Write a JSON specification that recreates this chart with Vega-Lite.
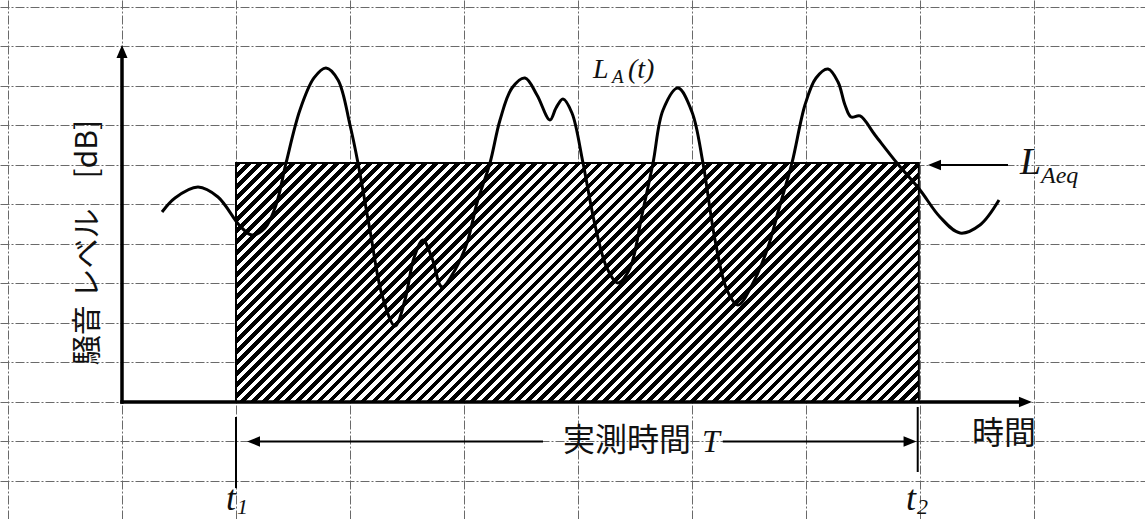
{
"$schema": "https://vega.github.io/schema/vega-lite/v6.json",
"width": 1145, "height": 519,
"autosize": {"type": "none"},
"padding": 0,
"background": "white",
"config": {"view": {"stroke": null}, "axis": {"grid": true, "labels": false, "ticks": false, "domain": false, "gridColor": "#6a6a6a", "gridWidth": 1, "gridDash": [9, 2, 2, 2]}},
"encoding": {
  "x": {"field": "x", "type": "quantitative", "title": null, "scale": {"domain": [-1.0702, 8.9737], "nice": false, "zero": false}, "axis": {"values": [-1, 0, 1, 2, 3, 4, 5, 6, 7, 8, 9], "title": null}},
  "y": {"field": "y", "type": "quantitative", "title": null, "scale": {"domain": [-2.962, 10.177], "nice": false, "zero": false}, "axis": {"values": [-3, -2, -1, 0, 1, 2, 3, 4, 5, 6, 7, 8, 9, 10], "title": null}}
},
"layer": [
{
  "data": {"values": [{"x": 1, "x2": 6.99, "y": 0, "y2": 6.05}]},
  "mark": {"type": "rect", "stroke": "#000", "strokeWidth": 2, "fill": {"gradient": "linear", "x1": 0, "y1": 0, "x2": 1.2027, "y2": 0.4209, "stops": [
{"offset":0,"color":"#000"},{"offset":0.0062,"color":"#000"},{"offset":0.0062,"color":"#fff"},{"offset":0.0119,"color":"#fff"},
{"offset":0.0119,"color":"#000"},{"offset":0.0181,"color":"#000"},{"offset":0.0181,"color":"#fff"},{"offset":0.0238,"color":"#fff"},
{"offset":0.0238,"color":"#000"},{"offset":0.0300,"color":"#000"},{"offset":0.0300,"color":"#fff"},{"offset":0.0357,"color":"#fff"},
{"offset":0.0357,"color":"#000"},{"offset":0.0419,"color":"#000"},{"offset":0.0419,"color":"#fff"},{"offset":0.0476,"color":"#fff"},
{"offset":0.0476,"color":"#000"},{"offset":0.0538,"color":"#000"},{"offset":0.0538,"color":"#fff"},{"offset":0.0595,"color":"#fff"},
{"offset":0.0595,"color":"#000"},{"offset":0.0657,"color":"#000"},{"offset":0.0657,"color":"#fff"},{"offset":0.0714,"color":"#fff"},
{"offset":0.0714,"color":"#000"},{"offset":0.0776,"color":"#000"},{"offset":0.0776,"color":"#fff"},{"offset":0.0833,"color":"#fff"},
{"offset":0.0833,"color":"#000"},{"offset":0.0895,"color":"#000"},{"offset":0.0895,"color":"#fff"},{"offset":0.0952,"color":"#fff"},
{"offset":0.0952,"color":"#000"},{"offset":0.1014,"color":"#000"},{"offset":0.1014,"color":"#fff"},{"offset":0.1071,"color":"#fff"},
{"offset":0.1071,"color":"#000"},{"offset":0.1133,"color":"#000"},{"offset":0.1133,"color":"#fff"},{"offset":0.1190,"color":"#fff"},
{"offset":0.1190,"color":"#000"},{"offset":0.1252,"color":"#000"},{"offset":0.1252,"color":"#fff"},{"offset":0.1310,"color":"#fff"},
{"offset":0.1310,"color":"#000"},{"offset":0.1372,"color":"#000"},{"offset":0.1372,"color":"#fff"},{"offset":0.1429,"color":"#fff"},
{"offset":0.1429,"color":"#000"},{"offset":0.1491,"color":"#000"},{"offset":0.1491,"color":"#fff"},{"offset":0.1548,"color":"#fff"},
{"offset":0.1548,"color":"#000"},{"offset":0.1610,"color":"#000"},{"offset":0.1610,"color":"#fff"},{"offset":0.1667,"color":"#fff"},
{"offset":0.1667,"color":"#000"},{"offset":0.1729,"color":"#000"},{"offset":0.1729,"color":"#fff"},{"offset":0.1786,"color":"#fff"},
{"offset":0.1786,"color":"#000"},{"offset":0.1848,"color":"#000"},{"offset":0.1848,"color":"#fff"},{"offset":0.1905,"color":"#fff"},
{"offset":0.1905,"color":"#000"},{"offset":0.1967,"color":"#000"},{"offset":0.1967,"color":"#fff"},{"offset":0.2024,"color":"#fff"},
{"offset":0.2024,"color":"#000"},{"offset":0.2086,"color":"#000"},{"offset":0.2086,"color":"#fff"},{"offset":0.2143,"color":"#fff"},
{"offset":0.2143,"color":"#000"},{"offset":0.2205,"color":"#000"},{"offset":0.2205,"color":"#fff"},{"offset":0.2262,"color":"#fff"},
{"offset":0.2262,"color":"#000"},{"offset":0.2324,"color":"#000"},{"offset":0.2324,"color":"#fff"},{"offset":0.2381,"color":"#fff"},
{"offset":0.2381,"color":"#000"},{"offset":0.2443,"color":"#000"},{"offset":0.2443,"color":"#fff"},{"offset":0.2500,"color":"#fff"},
{"offset":0.2500,"color":"#000"},{"offset":0.2562,"color":"#000"},{"offset":0.2562,"color":"#fff"},{"offset":0.2619,"color":"#fff"},
{"offset":0.2619,"color":"#000"},{"offset":0.2681,"color":"#000"},{"offset":0.2681,"color":"#fff"},{"offset":0.2738,"color":"#fff"},
{"offset":0.2738,"color":"#000"},{"offset":0.2800,"color":"#000"},{"offset":0.2800,"color":"#fff"},{"offset":0.2857,"color":"#fff"},
{"offset":0.2857,"color":"#000"},{"offset":0.2919,"color":"#000"},{"offset":0.2919,"color":"#fff"},{"offset":0.2976,"color":"#fff"},
{"offset":0.2976,"color":"#000"},{"offset":0.3038,"color":"#000"},{"offset":0.3038,"color":"#fff"},{"offset":0.3095,"color":"#fff"},
{"offset":0.3095,"color":"#000"},{"offset":0.3157,"color":"#000"},{"offset":0.3157,"color":"#fff"},{"offset":0.3214,"color":"#fff"},
{"offset":0.3214,"color":"#000"},{"offset":0.3276,"color":"#000"},{"offset":0.3276,"color":"#fff"},{"offset":0.3333,"color":"#fff"},
{"offset":0.3333,"color":"#000"},{"offset":0.3395,"color":"#000"},{"offset":0.3395,"color":"#fff"},{"offset":0.3452,"color":"#fff"},
{"offset":0.3452,"color":"#000"},{"offset":0.3514,"color":"#000"},{"offset":0.3514,"color":"#fff"},{"offset":0.3571,"color":"#fff"},
{"offset":0.3571,"color":"#000"},{"offset":0.3633,"color":"#000"},{"offset":0.3633,"color":"#fff"},{"offset":0.3690,"color":"#fff"},
{"offset":0.3690,"color":"#000"},{"offset":0.3752,"color":"#000"},{"offset":0.3752,"color":"#fff"},{"offset":0.3810,"color":"#fff"},
{"offset":0.3810,"color":"#000"},{"offset":0.3872,"color":"#000"},{"offset":0.3872,"color":"#fff"},{"offset":0.3929,"color":"#fff"},
{"offset":0.3929,"color":"#000"},{"offset":0.3991,"color":"#000"},{"offset":0.3991,"color":"#fff"},{"offset":0.4048,"color":"#fff"},
{"offset":0.4048,"color":"#000"},{"offset":0.4110,"color":"#000"},{"offset":0.4110,"color":"#fff"},{"offset":0.4167,"color":"#fff"},
{"offset":0.4167,"color":"#000"},{"offset":0.4229,"color":"#000"},{"offset":0.4229,"color":"#fff"},{"offset":0.4286,"color":"#fff"},
{"offset":0.4286,"color":"#000"},{"offset":0.4348,"color":"#000"},{"offset":0.4348,"color":"#fff"},{"offset":0.4405,"color":"#fff"},
{"offset":0.4405,"color":"#000"},{"offset":0.4467,"color":"#000"},{"offset":0.4467,"color":"#fff"},{"offset":0.4524,"color":"#fff"},
{"offset":0.4524,"color":"#000"},{"offset":0.4586,"color":"#000"},{"offset":0.4586,"color":"#fff"},{"offset":0.4643,"color":"#fff"},
{"offset":0.4643,"color":"#000"},{"offset":0.4705,"color":"#000"},{"offset":0.4705,"color":"#fff"},{"offset":0.4762,"color":"#fff"},
{"offset":0.4762,"color":"#000"},{"offset":0.4824,"color":"#000"},{"offset":0.4824,"color":"#fff"},{"offset":0.4881,"color":"#fff"},
{"offset":0.4881,"color":"#000"},{"offset":0.4943,"color":"#000"},{"offset":0.4943,"color":"#fff"},{"offset":0.5000,"color":"#fff"},
{"offset":0.5000,"color":"#000"},{"offset":0.5062,"color":"#000"},{"offset":0.5062,"color":"#fff"},{"offset":0.5119,"color":"#fff"},
{"offset":0.5119,"color":"#000"},{"offset":0.5181,"color":"#000"},{"offset":0.5181,"color":"#fff"},{"offset":0.5238,"color":"#fff"},
{"offset":0.5238,"color":"#000"},{"offset":0.5300,"color":"#000"},{"offset":0.5300,"color":"#fff"},{"offset":0.5357,"color":"#fff"},
{"offset":0.5357,"color":"#000"},{"offset":0.5419,"color":"#000"},{"offset":0.5419,"color":"#fff"},{"offset":0.5476,"color":"#fff"},
{"offset":0.5476,"color":"#000"},{"offset":0.5538,"color":"#000"},{"offset":0.5538,"color":"#fff"},{"offset":0.5595,"color":"#fff"},
{"offset":0.5595,"color":"#000"},{"offset":0.5657,"color":"#000"},{"offset":0.5657,"color":"#fff"},{"offset":0.5714,"color":"#fff"},
{"offset":0.5714,"color":"#000"},{"offset":0.5776,"color":"#000"},{"offset":0.5776,"color":"#fff"},{"offset":0.5833,"color":"#fff"},
{"offset":0.5833,"color":"#000"},{"offset":0.5895,"color":"#000"},{"offset":0.5895,"color":"#fff"},{"offset":0.5952,"color":"#fff"},
{"offset":0.5952,"color":"#000"},{"offset":0.6014,"color":"#000"},{"offset":0.6014,"color":"#fff"},{"offset":0.6071,"color":"#fff"},
{"offset":0.6071,"color":"#000"},{"offset":0.6133,"color":"#000"},{"offset":0.6133,"color":"#fff"},{"offset":0.6190,"color":"#fff"},
{"offset":0.6190,"color":"#000"},{"offset":0.6252,"color":"#000"},{"offset":0.6252,"color":"#fff"},{"offset":0.6310,"color":"#fff"},
{"offset":0.6310,"color":"#000"},{"offset":0.6372,"color":"#000"},{"offset":0.6372,"color":"#fff"},{"offset":0.6429,"color":"#fff"},
{"offset":0.6429,"color":"#000"},{"offset":0.6491,"color":"#000"},{"offset":0.6491,"color":"#fff"},{"offset":0.6548,"color":"#fff"},
{"offset":0.6548,"color":"#000"},{"offset":0.6610,"color":"#000"},{"offset":0.6610,"color":"#fff"},{"offset":0.6667,"color":"#fff"},
{"offset":0.6667,"color":"#000"},{"offset":0.6729,"color":"#000"},{"offset":0.6729,"color":"#fff"},{"offset":0.6786,"color":"#fff"},
{"offset":0.6786,"color":"#000"},{"offset":0.6848,"color":"#000"},{"offset":0.6848,"color":"#fff"},{"offset":0.6905,"color":"#fff"},
{"offset":0.6905,"color":"#000"},{"offset":0.6967,"color":"#000"},{"offset":0.6967,"color":"#fff"},{"offset":0.7024,"color":"#fff"},
{"offset":0.7024,"color":"#000"},{"offset":0.7086,"color":"#000"},{"offset":0.7086,"color":"#fff"},{"offset":0.7143,"color":"#fff"},
{"offset":0.7143,"color":"#000"},{"offset":0.7205,"color":"#000"},{"offset":0.7205,"color":"#fff"},{"offset":0.7262,"color":"#fff"},
{"offset":0.7262,"color":"#000"},{"offset":0.7324,"color":"#000"},{"offset":0.7324,"color":"#fff"},{"offset":0.7381,"color":"#fff"},
{"offset":0.7381,"color":"#000"},{"offset":0.7443,"color":"#000"},{"offset":0.7443,"color":"#fff"},{"offset":0.7500,"color":"#fff"},
{"offset":0.7500,"color":"#000"},{"offset":0.7562,"color":"#000"},{"offset":0.7562,"color":"#fff"},{"offset":0.7619,"color":"#fff"},
{"offset":0.7619,"color":"#000"},{"offset":0.7681,"color":"#000"},{"offset":0.7681,"color":"#fff"},{"offset":0.7738,"color":"#fff"},
{"offset":0.7738,"color":"#000"},{"offset":0.7800,"color":"#000"},{"offset":0.7800,"color":"#fff"},{"offset":0.7857,"color":"#fff"},
{"offset":0.7857,"color":"#000"},{"offset":0.7919,"color":"#000"},{"offset":0.7919,"color":"#fff"},{"offset":0.7976,"color":"#fff"},
{"offset":0.7976,"color":"#000"},{"offset":0.8038,"color":"#000"},{"offset":0.8038,"color":"#fff"},{"offset":0.8095,"color":"#fff"},
{"offset":0.8095,"color":"#000"},{"offset":0.8157,"color":"#000"},{"offset":0.8157,"color":"#fff"},{"offset":0.8214,"color":"#fff"},
{"offset":0.8214,"color":"#000"},{"offset":0.8276,"color":"#000"},{"offset":0.8276,"color":"#fff"},{"offset":0.8333,"color":"#fff"},
{"offset":0.8333,"color":"#000"},{"offset":0.8395,"color":"#000"},{"offset":0.8395,"color":"#fff"},{"offset":0.8452,"color":"#fff"},
{"offset":0.8452,"color":"#000"},{"offset":0.8514,"color":"#000"},{"offset":0.8514,"color":"#fff"},{"offset":0.8571,"color":"#fff"},
{"offset":0.8571,"color":"#000"},{"offset":0.8633,"color":"#000"},{"offset":0.8633,"color":"#fff"},{"offset":0.8690,"color":"#fff"},
{"offset":0.8690,"color":"#000"},{"offset":0.8752,"color":"#000"},{"offset":0.8752,"color":"#fff"},{"offset":0.8810,"color":"#fff"},
{"offset":0.8810,"color":"#000"},{"offset":0.8872,"color":"#000"},{"offset":0.8872,"color":"#fff"},{"offset":0.8929,"color":"#fff"},
{"offset":0.8929,"color":"#000"},{"offset":0.8991,"color":"#000"},{"offset":0.8991,"color":"#fff"},{"offset":0.9048,"color":"#fff"},
{"offset":0.9048,"color":"#000"},{"offset":0.9110,"color":"#000"},{"offset":0.9110,"color":"#fff"},{"offset":0.9167,"color":"#fff"},
{"offset":0.9167,"color":"#000"},{"offset":0.9229,"color":"#000"},{"offset":0.9229,"color":"#fff"},{"offset":0.9286,"color":"#fff"},
{"offset":0.9286,"color":"#000"},{"offset":0.9348,"color":"#000"},{"offset":0.9348,"color":"#fff"},{"offset":0.9405,"color":"#fff"},
{"offset":0.9405,"color":"#000"},{"offset":0.9467,"color":"#000"},{"offset":0.9467,"color":"#fff"},{"offset":0.9524,"color":"#fff"},
{"offset":0.9524,"color":"#000"},{"offset":0.9586,"color":"#000"},{"offset":0.9586,"color":"#fff"},{"offset":0.9643,"color":"#fff"},
{"offset":0.9643,"color":"#000"},{"offset":0.9705,"color":"#000"},{"offset":0.9705,"color":"#fff"},{"offset":0.9762,"color":"#fff"},
{"offset":0.9762,"color":"#000"},{"offset":0.9824,"color":"#000"},{"offset":0.9824,"color":"#fff"},{"offset":0.9881,"color":"#fff"},
{"offset":0.9881,"color":"#000"},{"offset":0.9943,"color":"#000"},{"offset":0.9943,"color":"#fff"},{"offset":1,"color":"#fff"}
]}},
  "encoding": {"x2": {"field": "x2"}, "y2": {"field": "y2"}}
},
{
  "data": {"values": [
    {"x":0.351,"y":4.810},{"x":0.465,"y":5.165},{"x":0.667,"y":5.443},{"x":0.842,"y":5.190},{"x":1.035,"y":4.456},{"x":1.140,"y":4.228},{"x":1.254,"y":4.405},{"x":1.351,"y":4.987},{"x":1.439,"y":6.051},{"x":1.561,"y":7.392},{"x":1.684,"y":8.203},{"x":1.789,"y":8.456},{"x":1.895,"y":8.152},{"x":2.0,"y":7.013},{"x":2.070,"y":6.051},{"x":2.175,"y":4.354},{"x":2.281,"y":2.709},{"x":2.395,"y":1.924},{"x":2.482,"y":2.582},{"x":2.561,"y":3.646},{"x":2.640,"y":4.101},{"x":2.719,"y":3.646},{"x":2.807,"y":2.911},{"x":2.921,"y":3.342},{"x":3.026,"y":4.025},{"x":3.114,"y":5.038},{"x":3.228,"y":6.051},{"x":3.316,"y":7.139},{"x":3.421,"y":7.949},{"x":3.535,"y":8.203},{"x":3.640,"y":7.772},{"x":3.754,"y":7.139},{"x":3.807,"y":7.443},{"x":3.868,"y":7.671},{"x":3.947,"y":7.316},{"x":4.044,"y":6.051},{"x":4.149,"y":4.481},{"x":4.254,"y":3.392},{"x":4.351,"y":3.013},{"x":4.456,"y":3.392},{"x":4.561,"y":4.734},{"x":4.658,"y":6.051},{"x":4.746,"y":7.392},{"x":4.877,"y":7.949},{"x":5.0,"y":7.342},{"x":5.096,"y":6.051},{"x":5.202,"y":4.101},{"x":5.307,"y":2.835},{"x":5.404,"y":2.456},{"x":5.526,"y":2.962},{"x":5.658,"y":3.848},{"x":5.772,"y":4.987},{"x":5.877,"y":6.051},{"x":5.991,"y":7.519},{"x":6.088,"y":8.203},{"x":6.193,"y":8.430},{"x":6.281,"y":8.101},{"x":6.342,"y":7.519},{"x":6.395,"y":7.215},{"x":6.474,"y":7.241},{"x":6.605,"y":6.759},{"x":6.798,"y":6.051},{"x":7.0,"y":5.367},{"x":7.175,"y":4.684},{"x":7.351,"y":4.278},{"x":7.526,"y":4.481},{"x":7.693,"y":5.114}
  ]},
  "mark": {"type": "line", "interpolate": "catmull-rom", "stroke": "#000", "strokeWidth": 3}
},
{
  "data": {"values": [{"x": 0, "y": 0, "x2": 0, "y2": 8.8}, {"x": 0, "y": 0, "x2": 7.9, "y2": 0}]},
  "mark": {"type": "rule", "color": "#000", "strokeWidth": 3.5, "strokeCap": "square"},
  "encoding": {"x2": {"field": "x2"}, "y2": {"field": "y2"}}
},
{
  "data": {"values": [
    {"x": 7.13, "y": 6.0, "x2": 7.772, "y2": 6.0},
    {"x": 1.15, "y": -1, "x2": 3.693, "y2": -1},
    {"x": 5.27, "y": -1, "x2": 6.92, "y2": -1},
    {"x": 1.0, "y": -0.38, "x2": 1.0, "y2": -2.18},
    {"x": 6.98, "y": -0.127, "x2": 6.98, "y2": -1.772}
  ]},
  "mark": {"type": "rule", "color": "#000", "strokeWidth": 2},
  "encoding": {"x2": {"field": "x2"}, "y2": {"field": "y2"}}
},
{
  "data": {"values": [{"x": 0, "y": 9.04}]},
  "mark": {"type": "point", "shape": "M0,0L-0.85,2L0.85,2Z", "size": 169, "filled": true, "color": "#000", "opacity": 1, "strokeWidth": 0}
},
{
  "data": {"values": [{"x": 7.982, "y": 0}, {"x": 6.97, "y": -1}]},
  "mark": {"type": "point", "shape": "M0,0L-2,-0.8L-2,0.8Z", "size": 169, "filled": true, "color": "#000", "opacity": 1, "strokeWidth": 0}
},
{
  "data": {"values": [{"x": 7.07, "y": 6.0}, {"x": 1.0965, "y": -1}]},
  "mark": {"type": "point", "shape": "M0,0L2,-0.8L2,0.8Z", "size": 169, "filled": true, "color": "#000", "opacity": 1, "strokeWidth": 0}
},
{
  "data": {"values": [{"x": 4.4298, "y": -1.0, "t": "実測時間"}, {"x": 7.7368, "y": -0.8101, "t": "時間"}]},
  "mark": {"type": "text", "font": "Noto Sans CJK JP", "fontSize": 32, "align": "center", "baseline": "middle", "color": "#111"},
  "encoding": {"text": {"field": "t"}}
},
{
  "data": {"values": [{"x": -0.2982, "y": 4.038, "t": "騒音 レベル　[dB]"}]},
  "mark": {"type": "text", "font": "Noto Sans CJK JP", "fontSize": 30, "angle": 270, "align": "center", "baseline": "middle", "color": "#111"},
  "encoding": {"text": {"field": "t"}}
},
{
  "data": {"values": [{"x": 4.1316, "y": 8.2025, "t": "L"}, {"x": 4.4386, "y": 8.2025, "t": "(t)"}]},
  "mark": {"type": "text", "font": "Liberation Serif", "fontStyle": "italic", "fontSize": 28, "align": "left", "baseline": "alphabetic", "color": "#111"},
  "encoding": {"text": {"field": "t"}}
},
{
  "data": {"values": [{"x": 4.2982, "y": 8.0759, "t": "A"}]},
  "mark": {"type": "text", "font": "Liberation Serif", "fontStyle": "italic", "fontSize": 19, "align": "left", "baseline": "alphabetic", "color": "#111"},
  "encoding": {"text": {"field": "t"}}
},
{
  "data": {"values": [{"x": 7.8772, "y": 5.7722, "t": "L"}]},
  "mark": {"type": "text", "font": "Liberation Serif", "fontStyle": "italic", "fontSize": 38, "align": "left", "baseline": "alphabetic", "color": "#111"},
  "encoding": {"text": {"field": "t"}}
},
{
  "data": {"values": [{"x": 8.0614, "y": 5.5443, "t": "Aeq"}]},
  "mark": {"type": "text", "font": "Liberation Serif", "fontStyle": "italic", "fontSize": 24, "align": "left", "baseline": "alphabetic", "color": "#111"},
  "encoding": {"text": {"field": "t"}}
},
{
  "data": {"values": [{"x": 5.0877, "y": -1.266, "t": "T"}]},
  "mark": {"type": "text", "font": "Liberation Serif", "fontStyle": "italic", "fontSize": 32, "align": "left", "baseline": "alphabetic", "color": "#111"},
  "encoding": {"text": {"field": "t"}}
},
{
  "data": {"values": [{"x": 0.9123, "y": -2.734, "t": "t"}, {"x": 6.8772, "y": -2.734, "t": "t"}]},
  "mark": {"type": "text", "font": "Liberation Serif", "fontStyle": "italic", "fontSize": 36, "align": "left", "baseline": "alphabetic", "color": "#111"},
  "encoding": {"text": {"field": "t"}}
},
{
  "data": {"values": [{"x": 1.0088, "y": -2.835, "t": "1"}, {"x": 6.9737, "y": -2.835, "t": "2"}]},
  "mark": {"type": "text", "font": "Liberation Serif", "fontStyle": "italic", "fontSize": 22, "align": "left", "baseline": "alphabetic", "color": "#111"},
  "encoding": {"text": {"field": "t"}}
}
]
}
